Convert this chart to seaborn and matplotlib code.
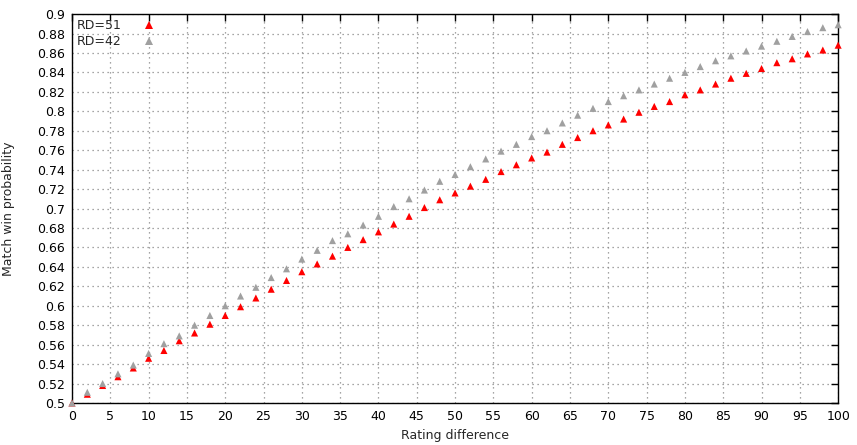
import numpy as np
import pandas as pd
import matplotlib
matplotlib.use("Agg")
import matplotlib.pyplot as plt
import seaborn as sns

# Rating difference (x) and win probabilities
rating_diff = list(range(0, 101, 2))
p_rd51 = [0.500, 0.509, 0.518, 0.527, 0.536, 0.546, 0.554, 0.564, 0.572, 0.581,
          0.590, 0.599, 0.608, 0.617, 0.626, 0.635, 0.643, 0.651, 0.660, 0.668,
          0.676, 0.684, 0.692, 0.701, 0.709, 0.716, 0.723, 0.730, 0.738, 0.745,
          0.752, 0.758, 0.766, 0.773, 0.780, 0.786, 0.792, 0.799, 0.805, 0.810,
          0.817, 0.822, 0.828, 0.834, 0.839, 0.844, 0.850, 0.854, 0.859, 0.863,
          0.868]
p_rd42 = [0.500, 0.511, 0.520, 0.530, 0.539, 0.551, 0.561, 0.569, 0.580, 0.590,
          0.600, 0.610, 0.619, 0.629, 0.638, 0.648, 0.657, 0.667, 0.674, 0.683,
          0.692, 0.702, 0.710, 0.719, 0.728, 0.735, 0.743, 0.751, 0.759, 0.766,
          0.774, 0.780, 0.788, 0.796, 0.803, 0.810, 0.816, 0.822, 0.828, 0.834,
          0.840, 0.846, 0.852, 0.857, 0.862, 0.867, 0.872, 0.877, 0.882, 0.886,
          0.889]
series_names = ["RD=51", "RD=42"]
series_colors = ["#ff0000", "#a0a0a0"]

df = pd.concat([
    pd.DataFrame({"diff": rating_diff, "prob": p_rd51, "series": series_names[0]}),
    pd.DataFrame({"diff": rating_diff, "prob": p_rd42, "series": series_names[1]}),
])

sns.set_style("white")
plt.rcParams["font.family"] = ["DejaVu Sans"]
plt.rcParams["font.size"] = 8

fig = plt.figure(figsize=(8.57, 4.45), dpi=100)
ax = fig.add_axes([0.084, 0.0944, 0.894, 0.874])

sns.scatterplot(data=df, x="diff", y="prob", hue="series",
                palette=dict(zip(series_names, series_colors)),
                marker="^", s=26, linewidth=0, ax=ax, zorder=3, clip_on=False)

ax.set_xlim(0, 100)
ax.set_ylim(0.5, 0.9)
ax.set_xticks(np.arange(0, 101, 5))
ax.set_yticks(np.arange(0.5, 0.901, 0.02))
ax.set_yticklabels([f"{v:g}" for v in np.round(np.arange(0.5, 0.901, 0.02), 2)])
ax.tick_params(direction="in", length=5, width=1, top=True, right=True,
               labelsize=9, colors="black", pad=5)
ax.grid(True, linestyle=(0, (1, 3)), color="#888888", linewidth=0.9)
for sp in ax.spines.values():
    sp.set_color("black")
    sp.set_linewidth(1)

ax.set_xlabel("Rating difference", fontsize=9)
ax.set_ylabel("Match win probability", fontsize=9)
ax.xaxis.set_label_coords(0.5, -0.068)
ax.yaxis.set_label_coords(-0.075, 0.5)

ax.legend(loc="upper left", frameon=False, markerfirst=False, title=None,
          fontsize=9, handletextpad=1.7, borderaxespad=0.3,
          labelspacing=0.25, borderpad=0.1, handlelength=1.0)

fig.savefig("out.png", dpi=100)
